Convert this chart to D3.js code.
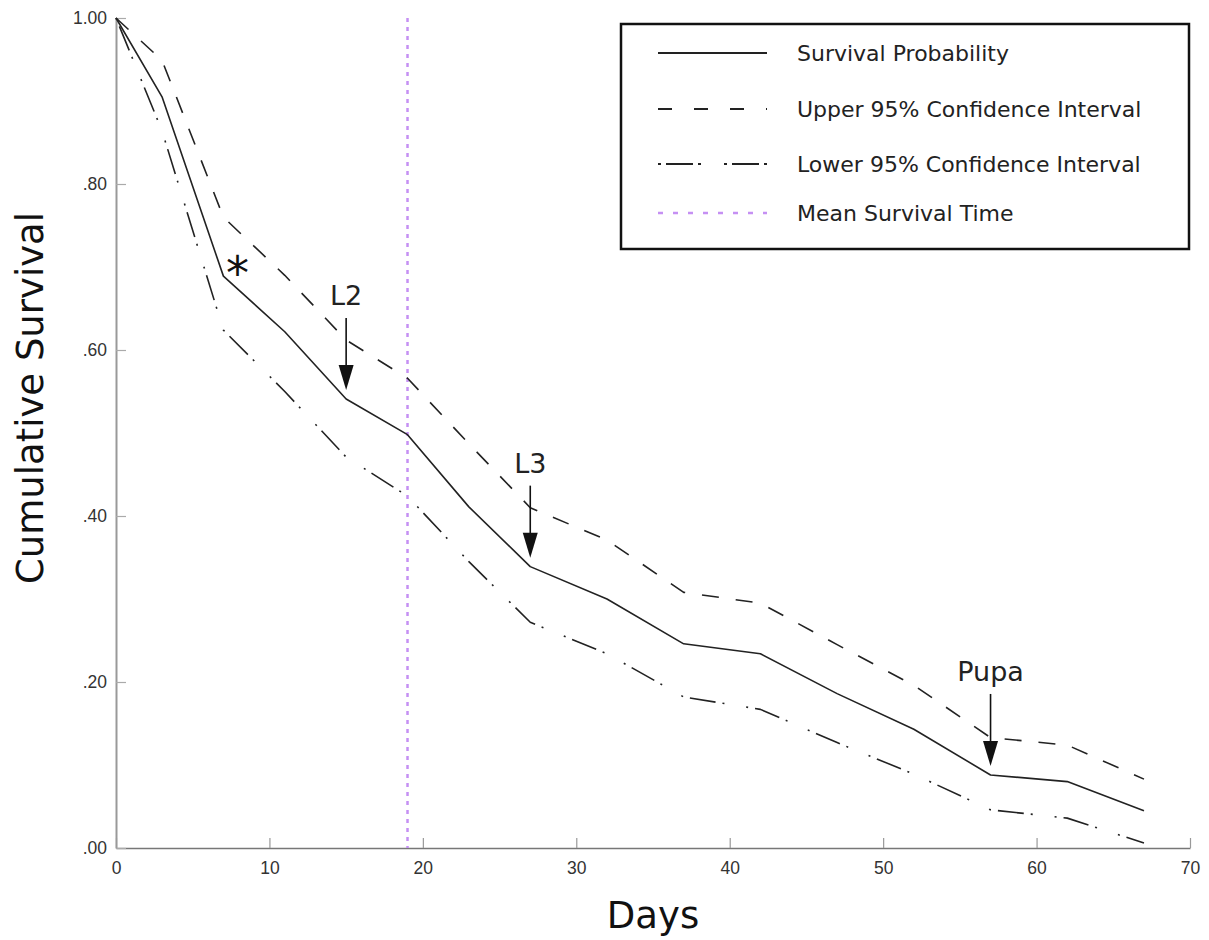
<!DOCTYPE html>
<html>
<head>
<meta charset="utf-8">
<script src="https://cdn.jsdelivr.net/npm/d3@7"></script>
<style>
  body { margin: 0; background: #fff; }
  svg { display: block; }
</style>
</head>
<body>
<div id="chart"></div>
<script>
// values
var days     = [0, 3, 7, 11, 15, 19, 23, 27, 32, 37, 42, 47, 52, 57, 62, 67];
var survival = [1.0, 0.905, 0.689, 0.622, 0.541, 0.498, 0.411, 0.339, 0.300, 0.246, 0.234, 0.186, 0.143, 0.088, 0.080, 0.045];
var upper95  = [1.0, 0.949, 0.760, 0.690, 0.612, 0.566, 0.487, 0.410, 0.371, 0.308, 0.295, 0.245, 0.196, 0.133, 0.124, 0.083];
var lower95  = [1.0, 0.864, 0.624, 0.550, 0.471, 0.424, 0.345, 0.272, 0.234, 0.182, 0.167, 0.127, 0.089, 0.046, 0.036, 0.006];

var meanSurvivalDay = 19;

var xTicks = [0, 10, 20, 30, 40, 50, 60, 70];
var yTicks = [0, 0.2, 0.4, 0.6, 0.8, 1.0];

var legendLabels = ["Survival Probability", "Upper 95% Confidence Interval", "Lower 95% Confidence Interval", "Mean Survival Time"];

var noteLabels = ["*", "L2", "L3", "Pupa"];
var noteDays   = [7, 15, 27, 57];

var width = 1209, height = 940;

var svg = d3.select("#chart").append("svg")
  .attr("width", width).attr("height", height);

var x = d3.scaleLinear().domain([0, 70]).range([116, 1190]);
var y = d3.scaleLinear().domain([0, 1]).range([848, 18]);

// line styles (solid / dashed / dash-dot / dotted)
var styles = [
  { stroke: "#222", width: 1.6, dash: null, legendDash: null },
  { stroke: "#222", width: 1.6, dash: "17,17", legendDash: "14,22" },
  { stroke: "#222", width: 1.6, dash: "2,7,26,7,2,22", legendDash: "3,5,27,5,3,23" },
  { stroke: "#c590f3", width: 2.5, dash: "4,5", legendDash: "5,10" }
];

// axes
var xAxis = d3.axisBottom(x).tickValues(xTicks).tickSizeInner(-10).tickSizeOuter(0).tickPadding(14);
var yAxis = d3.axisLeft(y).tickValues(yTicks).tickSizeInner(-10).tickSizeOuter(0).tickPadding(9)
  .tickFormat(function(d){
    return d === 1 ? "1.00" : d3.format(".2f")(d).replace(/^0/, "");
  });

var gx = svg.append("g").attr("transform", "translate(0," + y(0) + ")").call(xAxis);
var gy = svg.append("g").attr("transform", "translate(" + x(0) + ",0)").call(yAxis);

gx.select(".domain").attr("stroke", "#777").attr("stroke-width", 1.6);
gx.selectAll(".tick line").attr("stroke", "#999").attr("stroke-width", 1.2);
gy.select(".domain").attr("stroke", "#999").attr("stroke-width", 2);
gy.selectAll(".tick line").attr("stroke", "#aaa").attr("stroke-width", 1.2);
svg.selectAll(".tick text")
  .attr("font-family", "'Liberation Sans', Arial, sans-serif")
  .attr("font-size", 17.5)
  .attr("fill", "#333");

// axis titles
svg.append("text")
  .attr("x", (x(0) + x(70)) / 2).attr("y", 928)
  .attr("text-anchor", "middle")
  .attr("font-family", "'DejaVu Sans', Verdana, sans-serif")
  .attr("font-size", 37).attr("fill", "#111")
  .text("Days");

svg.append("text")
  .attr("transform", "translate(43," + ((y(0) + y(1)) / 2 - 35) + ") rotate(-90)")
  .attr("text-anchor", "middle")
  .attr("font-family", "'DejaVu Sans', Verdana, sans-serif")
  .attr("font-size", 37).attr("fill", "#111")
  .text("Cumulative Survival");

// mean survival time
svg.append("line")
  .attr("x1", x(meanSurvivalDay)).attr("x2", x(meanSurvivalDay))
  .attr("y1", y(1)).attr("y2", y(0))
  .attr("stroke", styles[3].stroke)
  .attr("stroke-width", styles[3].width)
  .attr("stroke-dasharray", styles[3].dash);

// the three curves
var line = d3.line()
  .x(function(d){ return x(d[0]); })
  .y(function(d){ return y(d[1]); });

[survival, upper95, lower95].forEach(function(vals, i){
  svg.append("path")
    .datum(d3.zip(days, vals))
    .attr("fill", "none")
    .attr("stroke", styles[i].stroke)
    .attr("stroke-width", styles[i].width)
    .attr("stroke-dasharray", styles[i].dash)
    .attr("stroke-linejoin", "round")
    .attr("d", line);
});

// notes: asterisk and stage arrows
noteLabels.forEach(function(label, i){
  var d = noteDays[i];
  var px = x(d);
  var py = y(survival[days.indexOf(d)]);
  if (label === "*") {
    svg.append("text")
      .attr("x", px + 14).attr("y", py + 13)
      .attr("text-anchor", "middle")
      .attr("font-family", "'DejaVu Sans', Verdana, sans-serif")
      .attr("font-size", 46).attr("fill", "#111")
      .text(label);
    return;
  }
  var tip = py - 9;
  var top = tip - 72;
  svg.append("line")
    .attr("x1", px).attr("x2", px)
    .attr("y1", top).attr("y2", tip - 20)
    .attr("stroke", "#111").attr("stroke-width", 1.6);
  svg.append("path")
    .attr("d", "M" + (px - 7.5) + "," + (tip - 25) + "L" + (px + 7.5) + "," + (tip - 25) + "L" + px + "," + tip + "Z")
    .attr("fill", "#111");
  svg.append("text")
    .attr("x", px).attr("y", top - 13)
    .attr("text-anchor", "middle")
    .attr("font-family", "'DejaVu Sans', Verdana, sans-serif")
    .attr("font-size", 27).attr("fill", "#222")
    .text(label);
});

// legend
var legend = svg.append("g");
legend.append("rect")
  .attr("x", 621).attr("y", 24).attr("width", 568).attr("height", 225)
  .attr("fill", "#fff").attr("stroke", "#111").attr("stroke-width", 2.5);

var rowY = [53, 109, 164, 213];
legendLabels.forEach(function(label, i){
  legend.append("line")
    .attr("x1", 658).attr("x2", 767)
    .attr("y1", rowY[i]).attr("y2", rowY[i])
    .attr("stroke", styles[i].stroke)
    .attr("stroke-width", i === 3 ? 2.5 : 2)
    .attr("stroke-dasharray", styles[i].legendDash);
  legend.append("text")
    .attr("x", 797).attr("y", rowY[i] + 8)
    .attr("font-family", "'DejaVu Sans', Verdana, sans-serif")
    .attr("font-size", 22).attr("fill", "#222")
    .text(label);
});
</script>
</body>
</html>
